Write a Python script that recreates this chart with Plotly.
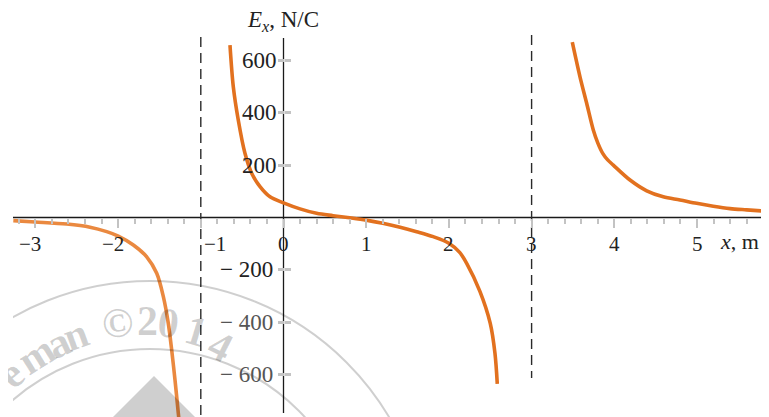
import plotly.graph_objects as go

# ---------------- data ----------------
left_x = [-3.267, -3.005, -2.622, -2.340, -2.138, -1.998, -1.816, -1.654, -1.533,
          -1.453, -1.393, -1.352, -1.312, -1.272, -1.255]
left_E = [-12, -17, -25, -37, -54, -71, -105, -150, -213,
          -302, -404, -506, -620, -747, -800]

mid_x = [-0.647, -0.607, -0.547, -0.466, -0.385, -0.284, -0.163, 0.0, 0.2, 0.4, 0.6, 0.8,
         1.0, 1.2, 1.41, 1.61, 1.81, 2.0, 2.13, 2.215, 2.375, 2.50, 2.557, 2.585]
mid_E = [658, 499, 372, 245, 169, 118, 79, 56, 33, 16, 7, -1,
         -10, -22, -37, -54, -73, -98, -133, -175, -282, -404, -518, -635]

right_x = [3.492, 3.585, 3.666, 3.746, 3.800, 3.860, 3.920, 3.988, 4.190, 4.392, 4.592, 4.794,
           4.996, 5.197, 5.399, 5.601, 5.871]
right_E = [669, 537, 436, 334, 285, 245, 220, 200, 143, 102, 79, 67, 54, 43, 34, 29, 23]

asymptotes = [-1, 3]

x_ticks = [-3, -2, -1, 0, 1, 2, 3, 4, 5]
x_tick_labels = ["\u22123", "\u22122", "\u22121", "0", "1", "2", "3", "4", "5"]
y_ticks = [-600, -400, -200, 200, 400, 600]
y_tick_labels = ["\u2212 600", "\u2212 400", "\u2212 200", "200", "400", "600"]

y_title = "<i>E<sub>x</sub></i>, N/C"
x_title = "<i>x</i>, m"
watermark_chars = ["e", "m", "a", "n", "\u00a9", "2", "0", "1", "4"]

# ---------------- geometry (reference-pixel helpers) ----------------
OFF = 8                     # page body margin
W, H = 769 - OFF, 417 - OFF
LEFT_PX = 13
X0PX, PXU = 283.5, 82.7
Y0PX, PYU = 217.5, 0.262


def px2x(p):
    return (p - X0PX) / PXU


def py2y(p):
    return (Y0PX - p) / PYU


xmin, xmax = px2x(LEFT_PX), px2x(769)
ymax, ymin = py2y(OFF), py2y(417)


def px2paper(p):
    return (p - LEFT_PX) / (769 - LEFT_PX)


def py2paper(p):
    return (417 - p) / (417 - OFF)


SERIF = "Liberation Serif, Times New Roman, serif"
ORANGE = "#E2711F"
ORANGE_LIGHT = "#EA8940"
TICK_GREY = "#c3c3c3"
WM = "rgba(0,0,0,0.19)"

fig = go.Figure()
for xs, ys, col in [(left_x, left_E, ORANGE_LIGHT), (mid_x, mid_E, ORANGE), (right_x, right_E, ORANGE)]:
    fig.add_trace(go.Scatter(x=xs, y=ys, mode="lines",
                             line=dict(color=col, width=3.6, shape="spline", smoothing=0.9),
                             hoverinfo="skip", showlegend=False))

shapes = []
shapes.append(dict(type="line", xref="x", yref="y", x0=xmin, x1=xmax, y0=0, y1=0,
                   line=dict(color="#1a1a1a", width=1.3), layer="below"))
shapes.append(dict(type="line", xref="x", yref="y", x0=0, x1=0, y0=py2y(38), y1=py2y(413),
                   line=dict(color="#1a1a1a", width=1.3), layer="below"))
dash_ext = {-1: (37, 420), 3: (35, 378)}
for a in asymptotes:
    t, b = dash_ext[a]
    shapes.append(dict(type="line", xref="x", yref="y", x0=a, x1=a, y0=py2y(t), y1=py2y(b),
                       line=dict(color="#2a2a2a", width=1.4, dash="10px,6px"), layer="below"))

# watermark
cx, cy = 150, 559
for R in (278, 210):
    shapes.append(dict(type="circle", xref="x", yref="y",
                       x0=px2x(cx - R), x1=px2x(cx + R), y0=py2y(cy + R), y1=py2y(cy - R),
                       line=dict(color=WM, width=2), layer="above"))
ax_, ay_ = 154, 376
path = "M {} {} L {} {} L {} {} Z".format(px2x(ax_), py2y(ay_), px2x(ax_ - 70), py2y(ay_ + 70),
                                         px2x(ax_ + 70), py2y(ay_ + 70))
shapes.append(dict(type="path", xref="x", yref="y", path=path, fillcolor=WM,
                   line=dict(width=0), layer="above"))

annotations = []
for v, lab in zip(x_ticks, x_tick_labels):
    shift = 0
    if v < 0:
        shift = -5
    if v == -1:
        shift = 14
    annotations.append(dict(x=v, y=0, xref="x", yref="y", text=lab, showarrow=False,
                            xanchor="center", yanchor="middle", xshift=shift, yshift=-26,
                            font=dict(family=SERIF, size=21, color="#222")))
for v, lab in zip(y_ticks, y_tick_labels):
    annotations.append(dict(x=0, y=v, xref="x", yref="y", text=lab, showarrow=False,
                            xanchor="right", yanchor="middle",
                            xshift=-5 if v > 0 else -9,
                            font=dict(family=SERIF, size=23, color="#222" if v > -400 else "#555")))
annotations.append(dict(x=px2x(245), y=py2y(21), xref="x", yref="y", text=y_title, showarrow=False,
                        xanchor="left", yanchor="middle", font=dict(family=SERIF, size=23, color="#222")))
annotations.append(dict(x=px2x(718), y=py2y(241), xref="x", yref="y", text=x_title, showarrow=False,
                        xanchor="left", yanchor="middle", font=dict(family=SERIF, size=22, color="#222")))

wm_pos = [(11, 374, -40), (36, 355, -32), (58, 343, -25), (75, 335, -20), (117, 323, -8),
          (147, 321, 0), (168, 323, 7), (196, 331, 17), (220, 346, 27)]
for ch, (px, py, ang) in zip(watermark_chars, wm_pos):
    annotations.append(dict(x=px2paper(px), y=py2paper(py), xref="paper", yref="paper",
                            text="<b>" + ch + "</b>",
                            showarrow=False, xanchor="center", yanchor="middle", textangle=ang,
                            font=dict(family=SERIF, size=42, color="rgba(0,0,0,0.19)")))

xpos = (0 - ymin) / (ymax - ymin)
ypos = (0 - xmin) / (xmax - xmin)

fig.update_layout(
    width=W, height=H,
    margin=dict(l=LEFT_PX - OFF, r=0, t=0, b=0),
    paper_bgcolor="white", plot_bgcolor="white",
    showlegend=False,
    shapes=shapes, annotations=annotations,
    xaxis=dict(range=[xmin, xmax], showgrid=False, zeroline=False, showline=False,
               showticklabels=False, anchor="free", position=xpos,
               tickmode="array", tickvals=x_ticks, ticks="outside", ticklen=9, tickwidth=2,
               tickcolor=TICK_GREY,
               minor=dict(tick0=0, dtick=0.2, ticks="outside", ticklen=5, tickwidth=2,
                          tickcolor=TICK_GREY, showgrid=False)),
    yaxis=dict(range=[ymin, ymax], showgrid=False, zeroline=False, showline=False,
               showticklabels=False, anchor="free", position=ypos,
               tickmode="array", tickvals=y_ticks, ticks="outside", ticklen=6, tickwidth=2.5,
               tickcolor=TICK_GREY),
    yaxis2=dict(range=[ymin, ymax], overlaying="y", showgrid=False, zeroline=False, showline=False,
                showticklabels=False, anchor="free", position=ypos, side="left",
                tickmode="array", tickvals=y_ticks, ticks="inside", ticklen=6, tickwidth=2.5,
                tickcolor=TICK_GREY),
)
fig.add_trace(go.Scatter(x=[None], y=[None], yaxis="y2", showlegend=False, hoverinfo="skip"))

fig.write_html("out.html")
